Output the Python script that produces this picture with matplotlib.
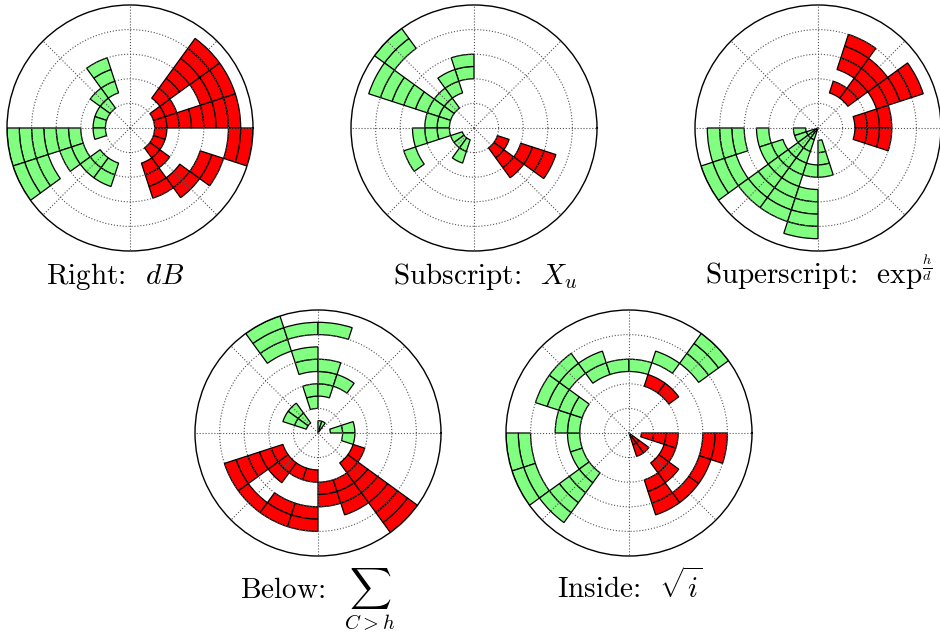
import numpy as np
import matplotlib
matplotlib.use("Agg")
import matplotlib.pyplot as plt

plt.rcParams['font.family'] = 'serif'
plt.rcParams['font.serif'] = ['cmr10']
plt.rcParams['mathtext.fontset'] = 'cm'
plt.rcParams['axes.unicode_minus'] = False

# each entry: angular bin (18 degree sectors), inner radius, outer radius, red?
right_bin = [0, 1, 1, 2, 19, 19, 18, 18, 17, 17, 16, 6, 7, 8, 9, 10, 10, 11, 11, 12, 13]
right_lo = [1.0, 1.0, 3.0, 1.5, 1.0, 4.0, 1.0, 3.0, 1.0, 2.5, 1.5, 1.5, 1.0, 1.0, 1.0, 1.0, 2.0, 2.0, 3.5, 1.5, 1.5]
right_hi = [4.5, 2.0, 4.5, 4.5, 1.5, 5.0, 1.5, 4.0, 2.0, 3.5, 3.0, 3.0, 2.0, 1.5, 1.5, 1.5, 5.0, 3.0, 5.0, 2.5, 2.5]
right_red = [1] * 11 + [0] * 10

sub_bin = [18, 18, 17, 5, 6, 7, 7, 8, 9, 10, 11, 11, 12, 13]
sub_lo = [1.0, 2.0, 1.0, 2.0, 1.5, 1.0, 4.0, 1.0, 1.0, 1.0, 0.5, 2.5, 0.5, 0.5]
sub_hi = [1.5, 3.5, 2.5, 3.0, 2.5, 2.0, 5.0, 4.5, 2.0, 2.5, 1.0, 3.0, 1.0, 1.5]
sub_red = [1] * 3 + [0] * 11

sup_bin = [0, 19, 1, 2, 3, 3, 10, 10, 10, 11, 11, 11, 12, 13, 14, 14, 15]
sup_lo = [1.5, 1.5, 2.5, 1.5, 1.5, 2.5, 0.5, 2.0, 3.0, 0.0, 1.5, 3.5, 0.0, 0.0, 1.5, 2.5, 0.5]
sup_hi = [3.0, 3.0, 4.5, 3.5, 2.0, 4.0, 1.0, 2.5, 4.5, 1.0, 2.5, 5.0, 4.0, 4.0, 2.0, 4.5, 2.0]
sup_red = [1] * 6 + [0] * 11

below_bin = [11, 12, 12, 13, 13, 14, 14, 15, 16, 17, 18,
             6, 5, 5, 5, 4, 4, 4, 3, 3, 7, 8, 0, 19]
below_lo = [1.5, 1.5, 3.5, 1.5, 3.0, 1.5, 3.0, 2.0, 2.0, 1.5, 1.5,
            3.5, 1.0, 2.5, 4.0, 0.0, 1.5, 4.0, 0.0, 2.0, 0.5, 0.5, 0.5, 1.0]
below_hi = [4.0, 2.5, 4.0, 2.0, 4.0, 2.0, 4.0, 3.0, 3.5, 5.0, 2.0,
            5.0, 2.0, 3.5, 4.5, 0.5, 3.0, 4.5, 0.5, 2.5, 1.5, 1.5, 1.5, 1.5]
below_red = [1] * 11 + [0] * 13

inside_bin = [3, 2, 19, 19, 18, 18, 17, 17, 17, 16, 16,
              10, 10, 11, 11, 12, 9, 8, 7, 6, 5, 4, 3, 2]
inside_lo = [2.0, 2.0, 0.5, 3.0, 1.5, 3.0, 0.0, 1.5, 3.0, 0.0, 2.0,
             2.0, 4.0, 2.0, 4.0, 2.0, 2.0, 2.0, 3.0, 2.5, 2.5, 2.5, 3.0, 3.5]
inside_hi = [2.5, 2.5, 2.0, 4.0, 2.0, 3.5, 1.0, 2.5, 3.5, 1.0, 3.5,
             2.5, 5.0, 2.5, 5.0, 4.5, 3.0, 4.0, 4.0, 3.5, 3.0, 3.0, 3.5, 5.0]
inside_red = [1] * 11 + [0] * 13

titles = [r'Right:  $dB$', r'Subscript:  $X_u$', r'Superscript:  $\exp^{\frac{h}{d}}$',
          r'Below:  $\sum_{C>h}$', r'Inside:  $\sqrt{i}$']

W, H = 940, 634
fig = plt.figure(figsize=(W / 100, H / 100), dpi=100)

centers = [(130, 128), (474, 128), (818, 128), (318, 433), (629, 433)]
title_x = [115, 485, 819, 318, 630]
title_y = [284, 284, 284, 598, 598]
R = 123
panels = [
    (right_bin, right_lo, right_hi, right_red),
    (sub_bin, sub_lo, sub_hi, sub_red),
    (sup_bin, sup_lo, sup_hi, sup_red),
    (below_bin, below_lo, below_hi, below_red),
    (inside_bin, inside_lo, inside_hi, inside_red),
]

step = np.deg2rad(18)
for (cx, cy), (bins, lo, hi, red), title, tx, ty in zip(centers, panels, titles, title_x, title_y):
    ax = fig.add_axes([(cx - R) / W, (H - cy - R) / H, 2 * R / W, 2 * R / H], projection='polar')
    for k, a, b, r in zip(bins, lo, hi, red):
        bottoms = np.arange(a, b - 1e-9, 0.5)
        ax.bar(np.full(len(bottoms), k * step), 0.5, width=step, bottom=bottoms,
               align='edge', color='#ff0000' if r else '#80ff80',
               edgecolor='black', linewidth=0.9)
    ax.set_ylim(0, 5)
    ax.set_yticks([1, 2, 3, 4])
    ax.set_xticks(np.deg2rad(np.arange(0, 360, 45)))
    ax.set_xticklabels([])
    ax.set_yticklabels([])
    ax.set_axisbelow(False)
    ax.grid(True, linestyle=':', color='#555555', linewidth=0.8)
    ax.spines['polar'].set_linewidth(1.0)
    fig.text(tx / W, (H - ty) / H, title, ha='center', va='baseline', fontsize=21)

fig.savefig('out.png', dpi=100)
